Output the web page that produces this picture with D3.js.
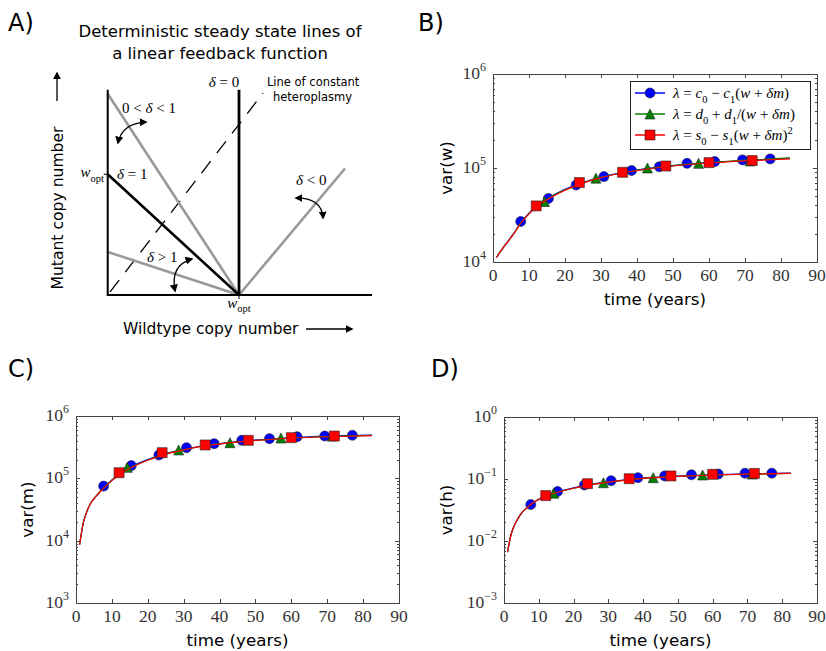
<!DOCTYPE html>
<html><head><meta charset="utf-8">
<script src="https://cdn.jsdelivr.net/npm/d3@7"></script>
<style>body{margin:0;background:#fff} svg{display:block}</style>
</head><body>
<svg id="c" width="826" height="651"></svg>
<script>
// ---------------- data ----------------
const xTickVals = [0, 10, 20, 30, 40, 50, 60, 70, 80, 90];
const circleT   = [7.7, 15.4, 23.1, 30.8, 38.5, 46.2, 53.9, 61.6, 69.3, 77.0];
const triangleT = [14.3, 28.6, 42.9, 57.1, 71.4];
const squareT   = [12, 24, 36, 48, 60, 72];
const lineT     = [1, 2, 3, 4, 5, 6, 7.5, 10, 12.5, 15, 20, 25, 30, 35, 40, 50, 60, 70, 82.5];

// panel B : var(w)
const varW_circle   = [2.7e4, 4.75e4, 6.6e4, 8.1e4, 9.4e4, 1.03e5, 1.12e5, 1.17e5, 1.22e5, 1.25e5];
const varW_triangle = [4.4e4, 7.8e4, 1.0e5, 1.12e5, 1.19e5];
const varW_square   = [3.95e4, 7.0e4, 9.0e4, 1.05e5, 1.14e5, 1.2e5];
const varW_lineBlue  = [1.12e4, 1.28e4, 1.45e4, 1.63e4, 1.84e4, 2.08e4, 2.55e4, 3.3e4, 4.05e4, 4.7e4, 5.95e4, 7.0e4, 8.0e4, 8.8e4, 9.5e4, 1.06e5, 1.14e5, 1.2e5, 1.27e5];
const varW_lineGreen = [1.12e4, 1.28e4, 1.45e4, 1.62e4, 1.83e4, 2.07e4, 2.55e4, 3.28e4, 4.0e4, 4.65e4, 5.85e4, 6.95e4, 7.95e4, 8.75e4, 9.45e4, 1.06e5, 1.14e5, 1.21e5, 1.28e5];
const varW_lineRed   = [1.12e4, 1.28e4, 1.45e4, 1.62e4, 1.82e4, 2.05e4, 2.52e4, 3.25e4, 3.98e4, 4.6e4, 5.8e4, 6.9e4, 7.9e4, 8.7e4, 9.4e4, 1.05e5, 1.13e5, 1.19e5, 1.25e5];

// panel C : var(m)
const varM_circle   = [7.5e4, 1.6e5, 2.37e5, 3.1e5, 3.6e5, 4.07e5, 4.33e5, 4.65e5, 4.77e5, 4.9e5];
const varM_triangle = [1.5e5, 2.85e5, 3.73e5, 4.43e5, 4.77e5];
const varM_square   = [1.23e5, 2.58e5, 3.43e5, 4.07e5, 4.49e5, 4.77e5];
const varM_lineBlue  = [8.6e3, 1.9e4, 2.9e4, 3.9e4, 4.7e4, 5.5e4, 6.9e4, 9.4e4, 1.22e5, 1.5e5, 2.0e5, 2.5e5, 2.9e5, 3.3e5, 3.6e5, 4.1e5, 4.48e5, 4.75e5, 4.95e5];
const varM_lineGreen = [8.6e3, 1.9e4, 2.9e4, 3.9e4, 4.7e4, 5.5e4, 6.8e4, 9.3e4, 1.21e5, 1.47e5, 1.97e5, 2.47e5, 2.87e5, 3.27e5, 3.57e5, 4.07e5, 4.43e5, 4.68e5, 4.88e5];
const varM_lineRed   = [8.6e3, 1.9e4, 2.9e4, 3.9e4, 4.7e4, 5.5e4, 6.8e4, 9.2e4, 1.2e5, 1.45e5, 1.95e5, 2.45e5, 2.85e5, 3.25e5, 3.55e5, 4.05e5, 4.4e5, 4.65e5, 4.85e5];

// panel D : var(h)
const varH_circle   = [0.0387, 0.0627, 0.080, 0.094, 0.105, 0.112, 0.117, 0.120, 0.124, 0.124];
const varH_triangle = [0.059, 0.087, 0.105, 0.116, 0.120];
const varH_square   = [0.054, 0.084, 0.101, 0.112, 0.119, 0.123];
const varH_lineBlue  = [0.0066, 0.0125, 0.018, 0.023, 0.028, 0.032, 0.038, 0.047, 0.054, 0.061, 0.072, 0.082, 0.090, 0.097, 0.103, 0.111, 0.117, 0.121, 0.125];
const varH_lineGreen = [0.0066, 0.0125, 0.018, 0.023, 0.028, 0.032, 0.038, 0.047, 0.054, 0.060, 0.071, 0.081, 0.089, 0.096, 0.102, 0.110, 0.116, 0.120, 0.123];
const varH_lineRed   = [0.0066, 0.0125, 0.018, 0.023, 0.028, 0.032, 0.038, 0.047, 0.054, 0.060, 0.071, 0.081, 0.089, 0.096, 0.102, 0.110, 0.116, 0.120, 0.123];

// legend
const seriesColors = ["#0000ff", "#008000", "#ff0000"];

// panel A (diagram, in units of w_opt)
const deltaValues = [0.6, 1, 2.8, -0.77];   // slopes of steady-state lines
const heteroSlope = 1.414;                  // line of constant heteroplasmy m = k w

// ---------------- drawing ----------------
const svg = d3.select("#c");
const SERIF = "'Liberation Serif','DejaVu Serif',serif";
const SANS = "'DejaVu Sans','Liberation Sans',sans-serif";

svg.append("defs").append("marker")
  .attr("id","ah").attr("viewBox","0 0 10 10").attr("refX",8).attr("refY",5)
  .attr("markerWidth",8).attr("markerHeight",8).attr("markerUnits","userSpaceOnUse")
  .attr("orient","auto-start-reverse")
  .append("path").attr("d","M0,0 L10,5 L0,10 Z").attr("fill","#000");

function mathText(sel, parts, size) {
  let off = 0;
  parts.forEach(p => {
    const [txt, st] = p;
    const t = sel.append("tspan").text(txt);
    let target = 0, fs = size;
    if (st === "sub") { target = size*0.3; fs = size*0.7; }
    if (st === "sup") { target = -size*0.4; fs = size*0.7; }
    t.attr("font-size", fs);
    if (st === "i" ) t.attr("font-style","italic");
    if (target !== off) { t.attr("dy", target - off); off = target; }
  });
}

// ---------- Panel letters ----------
[["A)",8,31],["B)",418,31],["C)",8,377],["D)",431,377]].forEach(([t,x,y]) =>
  svg.append("text").attr("x",x).attr("y",y).attr("font-family",SANS).attr("font-size",24).text(t));

// ---------- Panel A ----------
(function(){
  const xa = d3.scaleLinear().domain([0,1]).range([107.7, 239]);
  const ya = d3.scaleLinear().domain([0,1]).range([295, 174.3]);
  const g = svg.append("g");
  const line = d3.line().x(d=>xa(d[0])).y(d=>ya(d[1]));
  const mTop = 1.70, wRight = 2.013;

  g.append("text").attr("x",220).attr("y",37).attr("text-anchor","middle").attr("font-family",SANS).attr("font-size",16.5).text("Deterministic steady state lines of");
  g.append("text").attr("x",220).attr("y",59).attr("text-anchor","middle").attr("font-family",SANS).attr("font-size",16.5).text("a linear feedback function");

  g.append("path").attr("d", line([[0.018, 0.018*heteroSlope],[1.183, 1.183*heteroSlope]]))
    .attr("stroke","#000").attr("stroke-width",1.3).attr("stroke-dasharray","15,10").attr("fill","none");

  deltaValues.forEach(dl => {
    if (dl === 1) return;
    let pts;
    if (dl > 0) pts = [[0, 1/dl],[1,0]];
    else { const w2 = 1.807; pts = [[1,0],[w2, (w2-1)/(-dl)]]; }
    g.append("path").attr("d", line(pts)).attr("stroke","#999").attr("stroke-width",2.6).attr("fill","none");
  });
  g.append("path").attr("d", line([[0,1],[1,0]])).attr("stroke","#000").attr("stroke-width",2.6).attr("fill","none");
  g.append("path").attr("d", line([[1,0],[1,mTop]])).attr("stroke","#000").attr("stroke-width",2.8).attr("fill","none");
  g.append("path").attr("d", line([[0,mTop],[0,0],[wRight,0]])).attr("stroke","#000").attr("stroke-width",2).attr("fill","none");
  g.append("line").attr("x1",xa(0)-4).attr("x2",xa(0)).attr("y1",ya(1)).attr("y2",ya(1)).attr("stroke","#000").attr("stroke-width",1);
  g.append("line").attr("x1",xa(1)).attr("x2",xa(1)).attr("y1",ya(0)).attr("y2",ya(0)+4).attr("stroke","#000").attr("stroke-width",1);

  const arrows = [
    [[0.078,1.259],[0.109,1.425],[0.292,1.433]],
    [[0.513,0.033],[0.474,0.249],[0.642,0.298]],
    [[1.434,0.804],[1.632,0.804],[1.640,0.638]]
  ];
  arrows.forEach(a => {
    const p = d3.path();
    p.moveTo(xa(a[0][0]), ya(a[0][1]));
    p.quadraticCurveTo(xa(a[1][0]), ya(a[1][1]), xa(a[2][0]), ya(a[2][1]));
    g.append("path").attr("d", p.toString()).attr("stroke","#000").attr("stroke-width",1.3).attr("fill","none")
      .attr("marker-start","url(#ah)").attr("marker-end","url(#ah)");
  });

  const lab = (w,m,anchor) => g.append("text").attr("x",xa(w)).attr("y",ya(m)).attr("text-anchor",anchor).attr("font-family",SERIF).attr("font-size",15);
  mathText(lab(0.886,1.723,"middle"), [["δ","i"],[" = 0",""]], 15);
  mathText(lab(0.109,1.508,"start"), [["0 < ",""],["δ","i"],[" < 1",""]], 15);
  mathText(lab(-0.028,0.977,"end"), [["w","i"],["opt","sub"]], 15);
  mathText(lab(0.071,0.961,"start"), [["δ","i"],[" = 1",""]], 15);
  mathText(lab(1.434,0.911,"start"), [["δ","i"],[" < 0",""]], 15);
  mathText(lab(0.30,0.273,"start"), [["δ","i"],[" > 1",""]], 15);
  const wb = g.append("text").attr("x",xa(1)).attr("y",ya(-0.105)).attr("text-anchor","middle").attr("font-family",SERIF).attr("font-size",15);
  mathText(wb, [["w","i"],["opt","sub"]], 15);

  g.append("text").attr("x",xa(1.213)).attr("y",ya(1.73)).attr("font-family",SANS).attr("font-size",11.5).text("Line of constant");
  g.append("text").attr("x",xa(1.259)).attr("y",ya(1.607)).attr("font-family",SANS).attr("font-size",11.5).text("heteroplasmy");

  g.append("text").attr("transform","translate(63,208) rotate(-90)").attr("text-anchor","middle").attr("font-family",SANS).attr("font-size",15.6).text("Mutant copy number");
  g.append("line").attr("x1",57).attr("x2",57).attr("y1",101).attr("y2",73).attr("stroke","#000").attr("stroke-width",1.3).attr("marker-end","url(#ah)");
  g.append("text").attr("x",123).attr("y",334).attr("font-family",SANS).attr("font-size",15.5).text("Wildtype copy number");
  g.append("line").attr("x1",306).attr("x2",352).attr("y1",329).attr("y2",329).attr("stroke","#000").attr("stroke-width",1.3).attr("marker-end","url(#ah)");
})();

// ---------- log panels ----------
function logPanel(cfg) {
  const {x0,x1,y0,y1,ydom,ylabel,ylabOff,circ,tri,sq,lines,legend} = cfg;
  const x = d3.scaleLinear().domain([0,90]).range([x0,x1]);
  const y = d3.scaleLog().domain(ydom).range([y1,y0]);
  const g = svg.append("g");
  const AX = "#444";
  const TF = 17.5;
  xTickVals.forEach(t => {
    const px = Math.round(x(t))+0.5;
    g.append("line").attr("x1",px).attr("x2",px).attr("y1",y1).attr("y2",y1-4).attr("stroke",AX);
    g.append("line").attr("x1",px).attr("x2",px).attr("y1",y0).attr("y2",y0+4).attr("stroke",AX);
    g.append("text").attr("x",x(t)).attr("y",y1+19).attr("text-anchor","middle").attr("font-family",SERIF).attr("font-size",TF).attr("fill","#333").text(t);
  });
  const e0 = Math.round(Math.log10(ydom[0])), e1 = Math.round(Math.log10(ydom[1]));
  for (let e = e0; e <= e1; e++) {
    const v = Math.pow(10,e);
    const py = Math.round(y(v))+0.5;
    g.append("line").attr("x1",x0).attr("x2",x0+4).attr("y1",py).attr("y2",py).attr("stroke",AX);
    g.append("line").attr("x1",x1).attr("x2",x1-4).attr("y1",py).attr("y2",py).attr("stroke",AX);
    const tx = g.append("text").attr("x",x0-7).attr("y",y(v)+5).attr("text-anchor","end").attr("font-family",SERIF).attr("font-size",TF).attr("fill","#333");
    tx.append("tspan").text("10");
    tx.append("tspan").attr("dy",-8).attr("font-size",12).text(e < 0 ? "\u2212" + (-e) : String(e));
    if (e < e1) {
      for (let k = 2; k <= 9; k++) {
        const pm = Math.round(y(k*v))+0.5;
        g.append("line").attr("x1",x0).attr("x2",x0+2).attr("y1",pm).attr("y2",pm).attr("stroke",AX);
        g.append("line").attr("x1",x1).attr("x2",x1-2).attr("y1",pm).attr("y2",pm).attr("stroke",AX);
      }
    }
  }
  g.append("rect").attr("x",x0+0.5).attr("y",y0+0.5).attr("width",x1-x0).attr("height",y1-y0).attr("fill","none").attr("stroke",AX).attr("stroke-width",1);

  g.append("text").attr("x",(x0+x1)/2).attr("y",y1+43).attr("text-anchor","middle").attr("font-family",SANS).attr("font-size",16.7).text("time (years)");
  g.append("text").attr("transform",`translate(${x0-ylabOff},${(y0+y1)/2}) rotate(-90)`).attr("text-anchor","middle").attr("font-family",SANS).attr("font-size",16.7).text(ylabel);

  const ms = 10;
  const lineGen = d3.line().x((d,i)=>x(lineT[i])).y(d=>y(d)).curve(d3.curveMonotoneX);
  const markerPaths = {
    circle: d3.symbol().type(d3.symbolCircle).size(Math.PI*ms*ms/4)(),
    square: `M${-ms/2},${-ms/2}h${ms}v${ms}h${-ms}Z`,
    triangle: `M0,${-ms/2}L${ms/2},${ms/2}L${-ms/2},${ms/2}Z`
  };
  const sets = [
    {ts:circleT, vs:circ, shape:"circle", color:seriesColors[0], line:lines[0]},
    {ts:triangleT, vs:tri, shape:"triangle", color:seriesColors[1], line:lines[1]},
    {ts:squareT, vs:sq, shape:"square", color:seriesColors[2], line:lines[2]}
  ];
  sets.forEach(s => {
    g.append("path").attr("d", lineGen(s.line)).attr("fill","none").attr("stroke",s.color).attr("stroke-width",1.2);
    g.selectAll(null).data(s.vs).enter().append("path")
      .attr("d", markerPaths[s.shape])
      .attr("transform",(d,i)=>`translate(${x(s.ts[i])},${y(d)})`)
      .attr("fill",s.color).attr("stroke","#222").attr("stroke-width",0.6);
  });

  if (legend) {
    const lx0 = 630, ly0 = 81, lw = 180, lh = 68;
    g.append("rect").attr("x",lx0+0.5).attr("y",ly0+0.5).attr("width",lw).attr("height",lh).attr("fill","#fff").attr("stroke","#222").attr("stroke-width",1);
    const rows = [93, 114, 135];
    const texts = [
      [["λ","i"],[" = ",""],["c","i"],["0","sub"],[" − ",""],["c","i"],["1","sub"],["(",""],["w","i"],[" + ",""],["δm","i"],[")",""]],
      [["λ","i"],[" = ",""],["d","i"],["0","sub"],[" + ",""],["d","i"],["1","sub"],["/(",""],["w","i"],[" + ",""],["δm","i"],[")",""]],
      [["λ","i"],[" = ",""],["s","i"],["0","sub"],[" − ",""],["s","i"],["1","sub"],["(",""],["w","i"],[" + ",""],["δm","i"],[")",""],["2","sup"]]
    ];
    sets.forEach((s,i) => {
      g.append("line").attr("x1",635).attr("x2",665).attr("y1",rows[i]).attr("y2",rows[i]).attr("stroke",s.color).attr("stroke-width",1.5);
      g.append("path").attr("d",markerPaths[s.shape]).attr("transform",`translate(650,${rows[i]})`).attr("fill",s.color).attr("stroke","#222").attr("stroke-width",0.6);
      const t = g.append("text").attr("x",673).attr("y",rows[i]+5).attr("font-family",SERIF).attr("font-size",15);
      mathText(t, texts[i], 15);
    });
  }
}

logPanel({x0:493,x1:817,y0:74,y1:262,ydom:[1e4,1e6],ylabel:"var(w)",ylabOff:41,
  circ:varW_circle,tri:varW_triangle,sq:varW_square,lines:[varW_lineBlue,varW_lineGreen,varW_lineRed],legend:true});
logPanel({x0:76,x1:399,y0:416,y1:603,ydom:[1e3,1e6],ylabel:"var(m)",ylabOff:43,
  circ:varM_circle,tri:varM_triangle,sq:varM_square,lines:[varM_lineBlue,varM_lineGreen,varM_lineRed],legend:false});
logPanel({x0:504,x1:817,y0:417,y1:603,ydom:[1e-3,1e0],ylabel:"var(h)",ylabOff:52,
  circ:varH_circle,tri:varH_triangle,sq:varH_square,lines:[varH_lineBlue,varH_lineGreen,varH_lineRed],legend:false});
</script>
</body></html>
